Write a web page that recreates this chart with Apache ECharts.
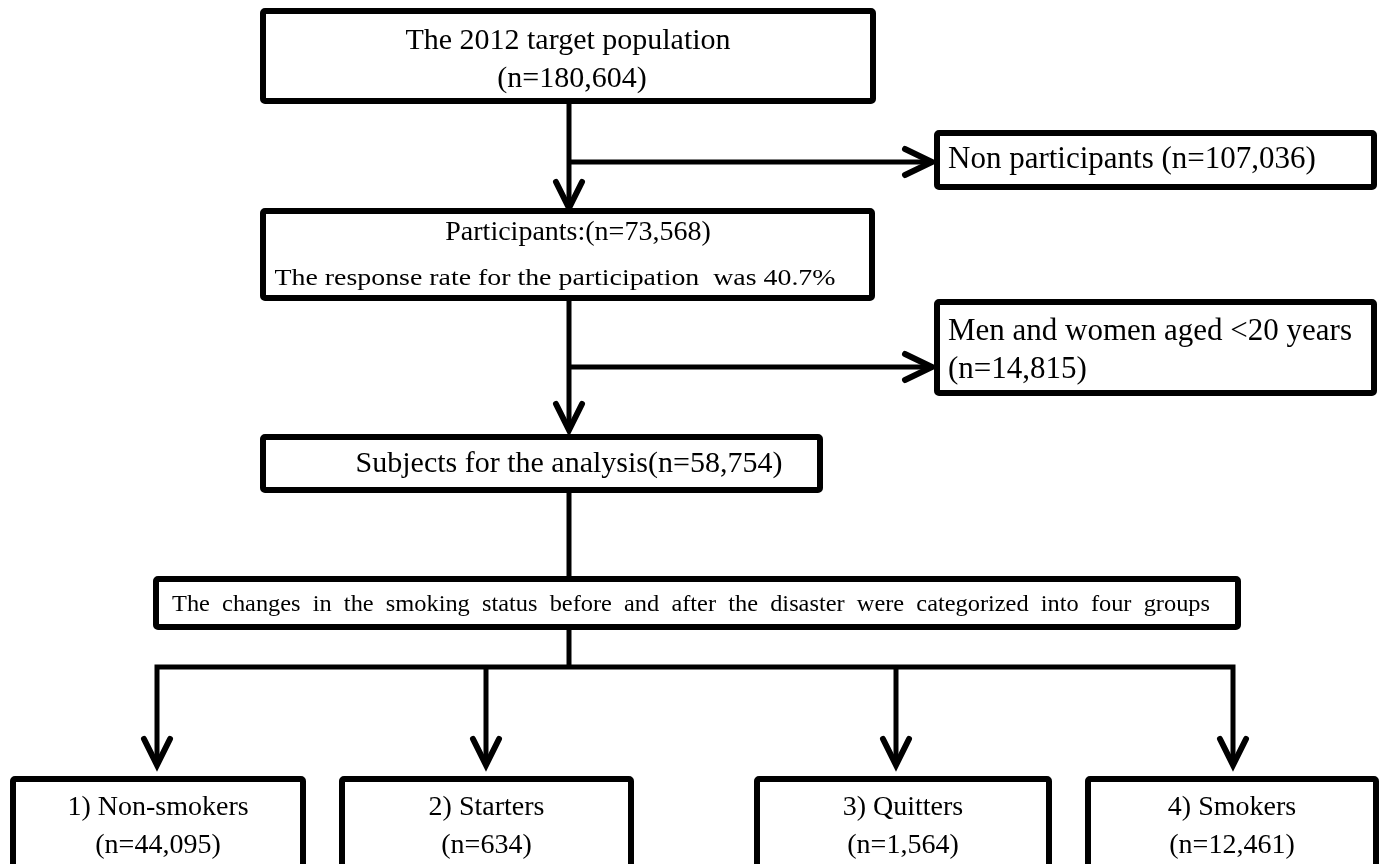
<!DOCTYPE html>
<html>
<head>
<meta charset="utf-8">
<script src="https://cdn.jsdelivr.net/npm/echarts@6/dist/echarts.min.js"></script>
<style>
  html, body { margin: 0; padding: 0; background: #fff; }
  #chart { width: 1383px; height: 864px; }
</style>
</head>
<body>
<div id="chart"></div>
<script>
// flow data
const stageLabels = ['The 2012 target population', 'Participants:', 'Subjects for the analysis'];
const stageCounts = [180604, 73568, 58754];
const responseRate = 40.7;
const excludedLabels = ['Non participants', 'Men and women aged <20 years'];
const excludedCounts = [107036, 14815];
const groupingNote = 'The  changes  in  the  smoking  status  before  and  after  the  disaster  were  categorized  into  four  groups';
const groupLabels = ['1) Non-smokers', '2) Starters', '3) Quitters', '4) Smokers'];
const groupCounts = [44095, 634, 1564, 12461];

// layout (pixels)
const mainX = 569;
const boxTop = [263, 11, 873, 101];
const boxPart = [263, 211, 872, 298];
const boxSubj = [263, 437, 820, 490];
const boxNote = [156, 579, 1238, 627];
const boxExcl = [[937, 133, 1374, 187], [937, 302, 1374, 393]];
const branchY = [162, 367];
const splitY = 667;
const dropX = [157, 486, 896, 1233];
const groupBoxX = [[13, 303], [342, 631], [757, 1049], [1088, 1376]];
const groupTop = 779;
const arrowTipY = 765;

const FONT = '"Liberation Serif", "Times New Roman", serif';
const fmt = n => n.toLocaleString('en-US');
const nText = n => `(n=${fmt(n)})`;

const measureCtx = document.createElement('canvas').getContext('2d');
function fitScale(text, size, width) {
  if (!width) return 1;
  measureCtx.font = `${size}px ${FONT}`;
  return width / measureCtx.measureText(text).width;
}

function box(b) {
  return {
    type: 'rect',
    shape: { x: b[0], y: b[1], width: b[2] - b[0], height: b[3] - b[1], r: 2 },
    style: { fill: '#fff', stroke: '#000', lineWidth: 6 },
    z: 10
  };
}

function line(points, w) {
  return {
    type: 'polyline',
    shape: { points: points },
    style: { fill: null, stroke: '#000', lineWidth: w || 5, lineJoin: 'miter' },
    z: 5
  };
}

function arrowDown(x, tip) {
  return {
    type: 'polyline',
    shape: { points: [[x - 13, tip - 26], [x, tip], [x + 13, tip - 26]] },
    style: { fill: null, stroke: '#000', lineWidth: 6, lineCap: 'round', lineJoin: 'miter' },
    z: 6
  };
}

function arrowRight(tip, y) {
  return {
    type: 'polyline',
    shape: { points: [[tip - 27, y - 13], [tip, y], [tip - 27, y + 13]] },
    style: { fill: null, stroke: '#000', lineWidth: 6, lineCap: 'round', lineJoin: 'miter' },
    z: 6
  };
}

function label(text, x, y, size, align, width) {
  return {
    type: 'text',
    x: x, y: y,
    scaleX: fitScale(text, size, width),
    originX: 0, originY: 0,
    style: {
      text: text,
      fontFamily: FONT,
      fontSize: size,
      fill: '#000',
      align: align || 'center', textAlign: align || 'center',
      verticalAlign: 'middle', textVerticalAlign: 'middle'
    },
    z: 20
  };
}

const els = [];

// connectors
els.push(line([[mainX, boxTop[3]], [mainX, boxPart[1] - 3]]));
els.push(arrowDown(mainX, boxPart[1] - 3));
els.push(line([[mainX, branchY[0]], [boxExcl[0][0] - 7, branchY[0]]]));
els.push(arrowRight(boxExcl[0][0] - 5, branchY[0]));

els.push(line([[mainX, boxPart[3]], [mainX, boxSubj[1] - 7]]));
els.push(arrowDown(mainX, boxSubj[1] - 7));
els.push(line([[mainX, branchY[1]], [boxExcl[1][0] - 7, branchY[1]]]));
els.push(arrowRight(boxExcl[1][0] - 5, branchY[1]));

els.push(line([[mainX, boxSubj[3]], [mainX, boxNote[1]]]));
els.push(line([[mainX, boxNote[3]], [mainX, splitY]]));
els.push(line([[dropX[0], arrowTipY], [dropX[0], splitY], [dropX[3], splitY], [dropX[3], arrowTipY]]));
dropX.forEach((x, i) => {
  if (i === 1 || i === 2) els.push(line([[x, splitY], [x, arrowTipY]]));
  els.push(arrowDown(x, arrowTipY));
});

// boxes
[boxTop, boxPart, boxSubj, boxNote, boxExcl[0], boxExcl[1]].forEach(b => els.push(box(b)));
groupBoxX.forEach(g => els.push(box([g[0], groupTop, g[1], 900])));

// texts
els.push(label(stageLabels[0], 568, 41, 30));
els.push(label(nText(stageCounts[0]), 572, 79, 30));
els.push(label(stageLabels[1] + nText(stageCounts[1]), 578, 233, 28));
els.push(label(`The response rate for the participation  was ${responseRate}%`, 555, 279, 23, 'center', 561));
els.push(label(stageLabels[2] + nText(stageCounts[2]), mainX, 464, 30));
els.push(label(groupingNote, 691, 605, 24, 'center', 1038));
els.push(label(`${excludedLabels[0]} ${nText(excludedCounts[0])}`, 948, 160, 31, 'left'));
els.push(label(excludedLabels[1], 948, 332, 31, 'left'));
els.push(label(nText(excludedCounts[1]), 948, 370, 31, 'left'));
groupLabels.forEach((g, i) => {
  const cx = (groupBoxX[i][0] + groupBoxX[i][1]) / 2;
  els.push(label(g, cx, 808, 28));
  els.push(label(nText(groupCounts[i]), cx, 846, 28));
});

const chart = echarts.init(document.getElementById('chart'), null, { renderer: 'canvas' });
chart.setOption({
  backgroundColor: '#fff',
  animation: false,
  graphic: { elements: els }
});
</script>
</body>
</html>
